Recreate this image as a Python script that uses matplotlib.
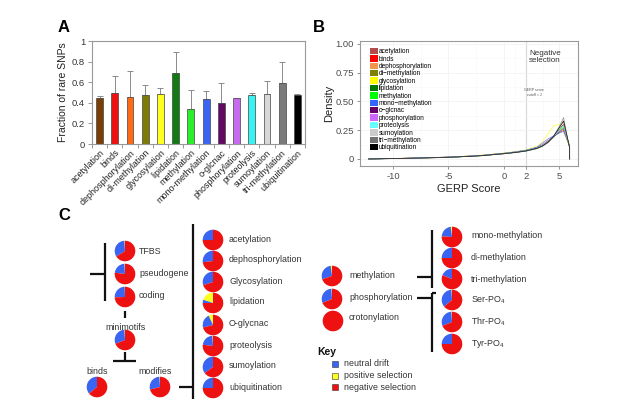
import matplotlib
matplotlib.use('Agg')
import matplotlib.pyplot as plt
from matplotlib.patches import Patch
import numpy as np

plt.rcParams['font.family'] = ['Liberation Sans', 'DejaVu Sans']
plt.rcParams['axes.unicode_minus'] = False
plt.rcParams['mathtext.fontset'] = 'custom'
plt.rcParams['mathtext.rm'] = 'Liberation Sans'

# ---------------- Panel A data ----------------
a_categories = ['acetylation', 'binds', 'dephosphorylation', 'di-methylation', 'glycosylation',
                'lipidation', 'methylation', 'mono-methylation', 'o-glcnac', 'phosphorylation',
                'proteolysis', 'sumoylation', 'tri-methylation', 'ubiquitination']
a_values = [0.45, 0.50, 0.46, 0.475, 0.49, 0.685, 0.335, 0.44, 0.40, 0.445, 0.475, 0.485, 0.59, 0.48]
a_upper = [0.47, 0.66, 0.71, 0.57, 0.54, 0.89, 0.52, 0.51, 0.59, 0.45, 0.50, 0.61, 0.80, 0.49]
a_colors = ['#7a3d06', '#ee1111', '#ff6a13', '#7d7a05', '#ffff22', '#127a12', '#2bef2b', '#3a64f2',
            '#620a62', '#c86aee', '#39f2f2', '#d8d8d8', '#7a7a7a', '#000000']

# ---------------- Panel B data ----------------
b_series = ['acetylation', 'binds', 'dephosphorylation', 'di\u2212methylation', 'glycosylation',
            'lipidation', 'methylation', 'mono\u2212methylation', 'o\u2212glcnac', 'phosphorylation',
            'proteolysis', 'sumoylation', 'tri\u2212methylation', 'ubiquitination']
b_colors = ['#b04c4c', '#ff0000', '#f0954a', '#7f7f00', '#ffff00', '#007a00', '#00ff00', '#3366ff',
            '#660066', '#cc66ff', '#66ffff', '#cccccc', '#737373', '#000000']
dens_x = [-12.2, -10, -8, -6, -4, -2, 0, 1, 2, 3, 3.5, 4, 4.5, 5, 5.4, 5.95, 5.95]
dens_acetylation = [0.0, 0.004, 0.008, 0.013, 0.020, 0.031, 0.049, 0.060, 0.074, 0.098, 0.120, 0.150, 0.190, 0.235, 0.270, 0.105, 0]
dens_binds = [0.0, 0.005, 0.009, 0.014, 0.021, 0.032, 0.050, 0.061, 0.075, 0.100, 0.125, 0.160, 0.195, 0.230, 0.250, 0.110, 0]
dens_dephos = [0.0, 0.003, 0.007, 0.012, 0.019, 0.030, 0.047, 0.058, 0.072, 0.095, 0.118, 0.150, 0.195, 0.255, 0.300, 0.100, 0]
dens_dimeth = [0.0, 0.004, 0.008, 0.012, 0.019, 0.029, 0.046, 0.057, 0.070, 0.093, 0.115, 0.148, 0.200, 0.275, 0.330, 0.095, 0]
dens_glyco = [0.0, 0.005, 0.009, 0.014, 0.022, 0.034, 0.052, 0.064, 0.080, 0.110, 0.150, 0.220, 0.290, 0.300, 0.230, 0.100, 0]
dens_lipid = [0.0, 0.003, 0.007, 0.011, 0.018, 0.028, 0.045, 0.055, 0.068, 0.090, 0.112, 0.145, 0.190, 0.240, 0.260, 0.115, 0]
dens_meth = [0.0, 0.004, 0.008, 0.013, 0.020, 0.030, 0.048, 0.059, 0.073, 0.097, 0.120, 0.152, 0.195, 0.245, 0.280, 0.105, 0]
dens_monometh = [0.0, 0.004, 0.009, 0.014, 0.021, 0.032, 0.050, 0.062, 0.077, 0.103, 0.140, 0.175, 0.200, 0.225, 0.240, 0.110, 0]
dens_oglcnac = [0.0, 0.003, 0.007, 0.012, 0.019, 0.029, 0.046, 0.057, 0.071, 0.094, 0.116, 0.148, 0.195, 0.255, 0.300, 0.100, 0]
dens_phos = [0.0, 0.004, 0.008, 0.013, 0.020, 0.031, 0.049, 0.060, 0.074, 0.098, 0.122, 0.155, 0.200, 0.240, 0.260, 0.110, 0]
dens_proteo = [0.0, 0.004, 0.008, 0.013, 0.020, 0.030, 0.048, 0.059, 0.073, 0.096, 0.118, 0.150, 0.195, 0.250, 0.290, 0.100, 0]
dens_sumo = [0.0, 0.003, 0.007, 0.012, 0.018, 0.028, 0.046, 0.056, 0.070, 0.092, 0.113, 0.145, 0.195, 0.265, 0.320, 0.095, 0]
dens_trimeth = [0.0, 0.003, 0.007, 0.011, 0.018, 0.028, 0.045, 0.055, 0.068, 0.090, 0.110, 0.142, 0.195, 0.280, 0.360, 0.090, 0]
dens_ubiq = [0.0, 0.004, 0.008, 0.012, 0.019, 0.029, 0.047, 0.057, 0.071, 0.094, 0.115, 0.148, 0.198, 0.270, 0.330, 0.095, 0]
dens_all = [dens_acetylation, dens_binds, dens_dephos, dens_dimeth, dens_glyco, dens_lipid, dens_meth,
            dens_monometh, dens_oglcnac, dens_phos, dens_proteo, dens_sumo, dens_trimeth, dens_ubiq]

# ---------------- Panel C data ----------------
c_names = ['TFBS', 'pseudogene', 'coding', 'minimotifs', 'binds', 'modifies',
           'acetylation', 'dephosphorylation', 'Glycosylation', 'lipidation', 'O-glycnac',
           'proteolysis', 'sumoylation', 'ubiquitination',
           'methylation', 'phosphorylation', 'crotonylation',
           'mono-methylation', 'di-methylation', 'tri-methylation',
           'Ser-PO$_4$', 'Thr-PO$_4$', 'Tyr-PO$_4$']
c_neutral = [0.33, 0.22, 0.25, 0.30, 0.36, 0.28,
             0.25, 0.27, 0.30, 0.05, 0.22, 0.22, 0.35, 0.25,
             0.28, 0.30, 0.0,
             0.22, 0.25, 0.19, 0.35, 0.30, 0.25]
c_positive = [0.01, 0.01, 0.005, 0.01, 0.0, 0.01,
              0.0, 0.0, 0.0, 0.20, 0.07, 0.01, 0.0, 0.0,
              0.02, 0.01, 0.0,
              0.02, 0.0, 0.0, 0.01, 0.01, 0.0]
key_labels = ['neutral drift', 'positive selection', 'negative selection']
key_colors = ['#3a64f2', '#ffff22', '#ee1111']

# ---------------- Figure ----------------
W, H = 631, 408
fig = plt.figure(figsize=(W / 100, H / 100), dpi=100)

# Panel A
axA = fig.add_axes([92 / W, 1 - 144 / H, 213 / W, 103 / H])
xa = np.arange(len(a_categories))
va = np.array(a_values)
ua = np.array(a_upper)
axA.errorbar(xa, va, yerr=[np.zeros_like(va), ua - va], fmt='none', ecolor='#8a8a8a',
             elinewidth=0.7, capsize=2, capthick=0.7, zorder=1)
axA.bar(xa, va, width=0.45, color=a_colors, edgecolor='#444444', linewidth=0.5, zorder=2)
axA.set_xlim(-0.5, len(a_categories) - 0.5)
axA.set_ylim(0, 1)
axA.set_yticks([0, 0.2, 0.4, 0.6, 0.8, 1.0])
axA.set_yticklabels(['0', '0.2', '0.4', '0.6', '0.8', '1'], fontsize=6.8, color='#333333')
axA.set_xticks(xa)
axA.set_xticklabels(a_categories, rotation=45, ha='right', rotation_mode='anchor',
                    fontsize=6.5, color='#222222')
axA.tick_params(axis='x', length=0, pad=3)
axA.set_xticks(np.arange(-0.5, len(a_categories), 1), minor=True)
axA.tick_params(axis='x', which='minor', length=3, color='#888888', width=0.6)
axA.tick_params(axis='y', length=3, color='#888888', width=0.6, pad=2)
for s in axA.spines.values():
    s.set_color('#999999')
    s.set_linewidth(0.8)
axA.set_ylabel('Fraction of rare SNPs', fontsize=7.5, color='#222222', labelpad=3)

# Panel B
axB = fig.add_axes([360 / W, 1 - 166 / H, 218 / W, 125 / H])
for ys, col in zip(dens_all, b_colors):
    axB.plot(dens_x, ys, color=col, linewidth=0.45, alpha=0.9)
axB.set_xlim(-12.98, 6.7)
axB.set_ylim(-0.061, 1.026)
axB.set_xticks([-10, -5, 0, 2, 5])
axB.set_xticklabels(['-10', '-5', '0', '2', '5'], fontsize=6.8, color='#4d4d4d')
axB.set_yticks([0, 0.25, 0.5, 0.75, 1.0])
axB.set_yticklabels(['0', '0.25', '0.50', '0.75', '1.00'], fontsize=6.8, color='#4d4d4d')
axB.set_xticks([-7.5, -2.5, 1, 3.5], minor=True)
axB.set_yticks([0.125, 0.375, 0.625, 0.875], minor=True)
axB.grid(True, which='major', color='#f0f0f0', linewidth=0.5)
axB.grid(True, which='minor', color='#f7f7f7', linewidth=0.4)
axB.set_axisbelow(True)
axB.tick_params(which='major', length=2.5, color='#666666', width=0.5, pad=2)
axB.tick_params(which='minor', length=0)
for s in axB.spines.values():
    s.set_color('#9a9a9a')
    s.set_linewidth(0.8)
axB.axvline(2, color='#a8a8a8', linewidth=0.8, zorder=0.5)
axB.set_xlabel('GERP Score', fontsize=8, color='#222222', labelpad=2)
axB.set_ylabel('Density', fontsize=8, color='#222222', labelpad=1)
axB.text(3.7, 0.95, 'Negative\nselection', ha='center', va='top', fontsize=5.8,
         color='#333333', linespacing=1.15)
axB.text(2.75, 0.58, 'GERP score\ncutoff = 2', ha='center', va='center', fontsize=2.6,
         color='#555555', linespacing=1.2)
handles = [Patch(facecolor=c, edgecolor='none') for c in b_colors]
axB.legend(handles, b_series, loc='upper left', bbox_to_anchor=(0.045, 0.945), fontsize=4.7,
           frameon=False, handlelength=1.25, handleheight=1.12, handletextpad=0.15,
           labelspacing=0.0, borderaxespad=0, borderpad=0)

# Panel C (overlay axes in pixel units)
axC = fig.add_axes([0, 0, 1, 1], zorder=5)
axC.patch.set_alpha(0)

def Y(y):
    return H - y

pie_pos = [(125, 251), (125, 274), (125, 297), (125, 340), (97, 387), (160, 387),
           (213, 240), (213, 261), (213, 282), (213, 303), (213, 325), (213, 346), (213, 367), (213, 388),
           (332, 276), (332, 299), (333, 321),
           (452, 237), (452, 258), (452, 279), (452, 300), (452, 322), (452, 344)]
R = 10.3
for (px, py), neu, pos in zip(pie_pos, c_neutral, c_positive):
    neg = 1 - neu - pos
    axC.pie([pos, neu, neg], colors=['#ffff22', '#3a64f2', '#ee1111'], startangle=90,
            counterclock=True, center=(px, Y(py)), radius=R, frame=True, normalize=True,
            wedgeprops=dict(linewidth=0))

lab_kw = dict(fontsize=6.4, color='#333333', va='center')
label_pos = [(139, 252, 'left'), (139, 274, 'left'), (139, 296, 'left'), (126, 327, 'center'),
             (97, 371, 'center'), (155, 371, 'center'),
             (229, 239, 'left'), (229, 260, 'left'), (229, 281, 'left'), (229, 302, 'left'),
             (229, 324, 'left'), (229, 345, 'left'), (229, 366, 'left'), (229, 387, 'left'),
             (349, 275, 'left'), (349, 297, 'left'), (349, 318, 'left'),
             (471, 236, 'left'), (471, 257, 'left'), (471, 279, 'left'), (471, 300, 'left'),
             (471, 322, 'left'), (471, 344, 'left')]
for (lx, ly, ha), name in zip(label_pos, c_names):
    axC.text(lx, Y(ly), name, ha=ha, **lab_kw)

line_kw = dict(color='#111111', linewidth=1.6, solid_capstyle='butt')
segments = [
    ((105, 105), (243, 301)), ((90, 105), (274, 274)),
    ((125, 125), (311, 318)),
    ((125, 125), (352, 361)), ((113, 136), (361, 361)),
    ((179, 193), (387, 387)), ((193, 193), (224, 399)),
    ((417, 432), (277, 277)), ((432, 432), (230, 288)),
    ((417, 432), (298, 298)), ((432, 432), (293, 352)), ((432, 436), (293, 293)),
]
for xs, ys in segments:
    axC.plot(xs, [Y(v) for v in ys], **line_kw)

# Key
axC.text(317, Y(352), 'Key', fontsize=7.5, fontweight='bold', color='#111111', va='center')
for i, (kl, kc) in enumerate(zip(key_labels, key_colors)):
    yy = 364 + i * 11.5
    axC.scatter([335], [Y(yy)], marker='s', s=22, color=kc, edgecolors='#333333', linewidths=0.4)
    axC.text(344, Y(yy), kl, fontsize=6.4, color='#333333', va='center')

# Panel letters
axC.text(58, Y(28), 'A', fontsize=12, fontweight='bold', va='center')
axC.text(313, Y(28), 'B', fontsize=12, fontweight='bold', va='center')
axC.text(58, Y(216), 'C', fontsize=12, fontweight='bold', va='center')

axC.set_xlim(0, W)
axC.set_ylim(0, H)
axC.set_aspect('auto')
axC.axis('off')

fig.savefig('out.png', dpi=100)
